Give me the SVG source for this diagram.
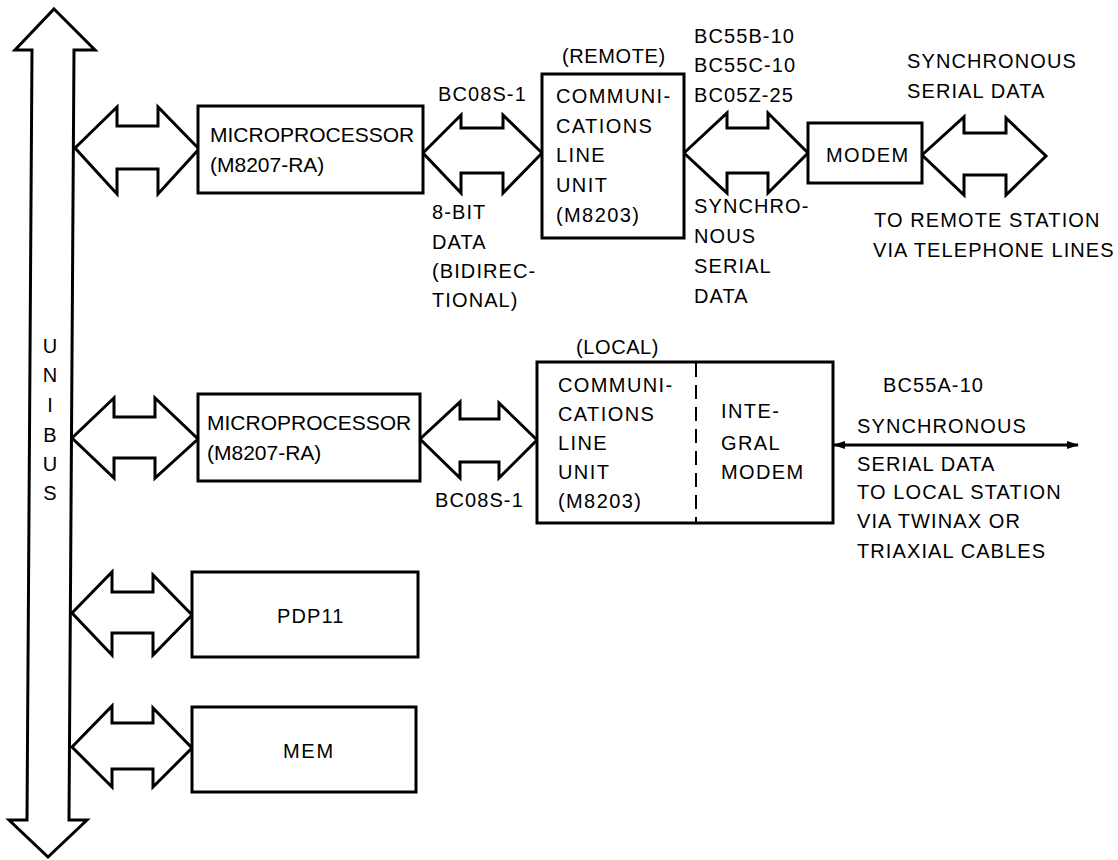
<svg xmlns="http://www.w3.org/2000/svg" width="1118" height="860" viewBox="0 0 1118 860">
<defs>
<style>
.ln{fill:none;stroke:#000;stroke-width:3;stroke-linejoin:miter}
.bx{fill:#fff;stroke:#000;stroke-width:3}
.ar{fill:#fff;stroke:#000;stroke-width:3;stroke-linejoin:miter}
text{font-family:"Liberation Sans",Arial,sans-serif;font-size:20px;fill:#000;letter-spacing:1.1px}
.big{font-size:21px;letter-spacing:0}
.clu{font-size:20px;letter-spacing:1.4px}
.mid{text-anchor:middle;letter-spacing:0}
</style>
<marker id="ah" viewBox="0 0 12 8" refX="11" refY="4" markerWidth="12" markerHeight="8" markerUnits="userSpaceOnUse" orient="auto-start-reverse">
<path d="M0,0 L12,4 L0,8 Z" fill="#000"/>
</marker>
</defs>
<rect width="1118" height="860" fill="#fff"/>

<g id="unibus">
<polygon class="ar" points="54,9 95,50 74,50 69,820 87,820 48,857 9,820 27,820 32,50 15,50"/>
<text class="mid" x="50" y="353">U</text>
<text class="mid" x="50" y="382">N</text>
<text class="mid" x="50" y="412">I</text>
<text class="mid" x="50" y="442">B</text>
<text class="mid" x="50" y="471">U</text>
<text class="mid" x="50" y="500">S</text>
</g>

<g id="connectors">
<polygon class="ar" points="75,148 117,107 117,126 158,126 158,107 199,149 158,194 158,169 117,169 117,194"/>
<polygon class="ar" points="423,153 461,115 461,128 503,128 503,115 542,153 503,193 503,173 461,173 461,193"/>
<polygon class="ar" points="684,153 727,113 727,128 768,128 768,113 808,153 768,193 768,173 727,173 727,193"/>
<polygon class="ar" points="922,155 964,117 964,133 1006,133 1006,118 1046,156 1006,195 1006,175 964,175 964,195"/>
<polygon class="ar" points="72,438 114,398 114,417 155,417 155,398 198,439 155,478 155,458 114,458 114,478"/>
<polygon class="ar" points="420,439 460,402 460,419 499,419 499,403 537,440 499,478 499,462 460,462 460,478"/>
<polygon class="ar" points="72,613 112,572 112,592 153,592 153,575 192,615 153,655 153,633 112,633 112,655"/>
<polygon class="ar" points="72,747 112,706 112,723 153,723 153,708 192,748 153,787 153,769 112,769 112,787"/>
<line class="ln" x1="834" y1="445" x2="1078" y2="445" stroke-width="2.5" marker-start="url(#ah)" marker-end="url(#ah)"/>
</g>

<g id="mp1">
<rect class="bx" x="198" y="106" width="225" height="87"/>
<text class="big" x="210" y="142">MICROPROCESSOR</text>
<text class="big" x="210" y="172">(M8207-RA)</text>
</g>

<g id="mp2">
<rect class="bx" x="198" y="394" width="222" height="87"/>
<text class="big" x="207" y="430">MICROPROCESSOR</text>
<text class="big" x="207" y="460">(M8207-RA)</text>
</g>

<g id="pdp11">
<rect class="bx" x="192" y="572" width="226" height="85"/>
<text x="277" y="623">PDP11</text>
</g>

<g id="mem">
<rect class="bx" x="192" y="707" width="224" height="85"/>
<text x="283" y="758" style="letter-spacing:1.7px">MEM</text>
</g>

<g id="clu-remote">
<rect class="bx" x="542" y="74" width="142" height="164"/>
<text x="562" y="63" style="letter-spacing:0.6px">(REMOTE)</text>
<text class="clu" x="556" y="103">COMMUNI-</text>
<text class="clu" x="556" y="133">CATIONS</text>
<text class="clu" x="556" y="162">LINE</text>
<text class="clu" x="556" y="192">UNIT</text>
<text class="clu" x="556" y="222">(M8203)</text>
</g>

<g id="modem">
<rect class="bx" x="808" y="123" width="114" height="60"/>
<text class="clu" x="826" y="162">MODEM</text>
</g>

<g id="clu-local">
<rect class="bx" x="537" y="362" width="296" height="161"/>
<line x1="696" y1="363" x2="696" y2="522" stroke="#000" stroke-width="2" stroke-dasharray="14,8"/>
<text x="576" y="354" style="letter-spacing:0.6px">(LOCAL)</text>
<text class="clu" x="558" y="392">COMMUNI-</text>
<text class="clu" x="558" y="421">CATIONS</text>
<text class="clu" x="558" y="450">LINE</text>
<text class="clu" x="558" y="479">UNIT</text>
<text class="clu" x="558" y="508">(M8203)</text>
<text class="clu" x="721" y="418">INTE-</text>
<text class="clu" x="721" y="450">GRAL</text>
<text class="clu" x="721" y="479">MODEM</text>
</g>

<g id="labels">
<text x="438" y="101">BC08S-1</text>
<text x="432" y="219">8-BIT</text>
<text x="432" y="249">DATA</text>
<text x="432" y="278">(BIDIREC-</text>
<text x="432" y="307">TIONAL)</text>
<text x="694" y="43">BC55B-10</text>
<text x="694" y="72">BC55C-10</text>
<text x="694" y="102">BC05Z-25</text>
<text x="694" y="213">SYNCHRO-</text>
<text x="694" y="243">NOUS</text>
<text x="694" y="273">SERIAL</text>
<text x="694" y="303">DATA</text>
<text x="907" y="68">SYNCHRONOUS</text>
<text x="907" y="98">SERIAL DATA</text>
<text x="874" y="227">TO REMOTE STATION</text>
<text x="873" y="257">VIA TELEPHONE LINES</text>
<text x="435" y="507">BC08S-1</text>
<text x="883" y="392">BC55A-10</text>
<text x="857" y="433">SYNCHRONOUS</text>
<text x="857" y="471">SERIAL DATA</text>
<text x="857" y="499">TO LOCAL STATION</text>
<text x="857" y="528">VIA TWINAX OR</text>
<text x="857" y="558">TRIAXIAL CABLES</text>
</g>
</svg>
